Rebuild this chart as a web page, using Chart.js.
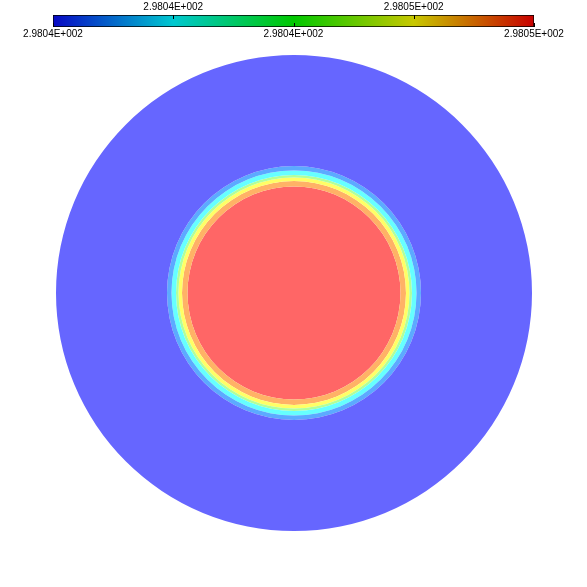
<!DOCTYPE html>
<html>
<head>
<meta charset="utf-8">
<script src="https://cdn.jsdelivr.net/npm/chart.js@4"></script>
<style>
  html, body { margin: 0; padding: 0; background: #ffffff; }
  #wrap { position: relative; width: 587px; height: 587px; }
  canvas { position: absolute; left: 0; }
  #disk { top: 0; }
  #bar { top: -1px; }
</style>
</head>
<body>
<div id="wrap">
  <canvas id="disk" width="587" height="587"></canvas>
  <canvas id="bar" width="587" height="42"></canvas>
</div>
<script>
// ---- data ----
// colour bar range and tick labels
const barMin = 298.0400;
const barMax = 298.0496;
const topTickValues = [298.0424, 298.0472];
const topTickLabels = ['2.9804E+002', '2.9805E+002'];
const bottomTickValues = [298.0400, 298.0448, 298.0496];
const bottomTickLabels = ['2.9804E+002', '2.9804E+002', '2.9805E+002'];
const barStops = [0, 0.25, 0.5, 0.75, 1];
const barStopColors = ['#0808c4', '#00c8d0', '#00c800', '#c8c800', '#c80000'];

// concentric contour bands (outer radius of each band, in plot units, outer -> inner)
const bandNames = ['band1', 'band2', 'band3', 'band4', 'band5', 'band6', 'band7'];
const bandOuterRadius = [238, 127, 122.5, 118, 115.5, 112, 106.5];
const bandColors = ['#6666ff', '#5caaff', '#66ffff', '#b2ff99', '#ffff66', '#ffb266', '#ff6666'];

// ---- disk (doughnut rings) ----
const datasets = bandOuterRadius.map((r, i) => {
  const inner = i + 1 < bandOuterRadius.length ? bandOuterRadius[i + 1] : 0;
  return {
    label: bandNames[i],
    data: [1],
    weight: r - inner,
    backgroundColor: bandColors[i],
    borderWidth: 0,
    hoverOffset: 0,
    offset: 0
  };
});

new Chart(document.getElementById('disk'), {
  type: 'doughnut',
  data: { labels: ['T'], datasets },
  options: {
    responsive: false,
    animation: false,
    devicePixelRatio: 1,
    cutout: 0,
    layout: { padding: { left: 56, right: 55, top: 55, bottom: 56 } },
    plugins: { legend: { display: false }, tooltip: { enabled: false } },
    events: []
  }
});

// ---- colour bar ----
const tickMarks = {
  id: 'tickMarks',
  afterDatasetsDraw(chart) {
    const c = chart.ctx;
    const a = chart.chartArea;
    c.save();
    c.strokeStyle = '#000';
    c.lineWidth = 1;
    c.beginPath();
    topTickValues.forEach(v => {
      const x = Math.round(chart.scales.x.getPixelForValue(v)) + 0.5;
      c.moveTo(x, a.top); c.lineTo(x, a.top + 4);
    });
    bottomTickValues.forEach(v => {
      const x = Math.round(chart.scales.x.getPixelForValue(v)) + 0.5;
      c.moveTo(x, a.bottom); c.lineTo(x, a.bottom - 4);
    });
    c.stroke();
    c.restore();
  }
};

const tickFont = { family: "'Liberation Sans', Arial, sans-serif", size: 10 };

new Chart(document.getElementById('bar'), {
  type: 'bar',
  data: {
    labels: ['T'],
    datasets: [{
      data: [[barMin, barMax]],
      xAxisID: 'x',
      backgroundColor: (ctx) => {
        const area = ctx.chart.chartArea;
        if (!area) return '#00c800';
        const g = ctx.chart.ctx.createLinearGradient(area.left, 0, area.right, 0);
        barStops.forEach((s, i) => g.addColorStop(s, barStopColors[i]));
        return g;
      },
      borderColor: '#000',
      borderWidth: 1,
      borderSkipped: false,
      barPercentage: 1,
      categoryPercentage: 1
    }]
  },
  options: {
    indexAxis: 'y',
    responsive: false,
    animation: false,
    devicePixelRatio: 1,
    layout: { padding: { left: 53, right: 53, top: 0, bottom: 0 } },
    plugins: { legend: { display: false }, tooltip: { enabled: false } },
    events: [],
    scales: {
      y: { display: false },
      x: {
        type: 'linear', position: 'bottom', min: barMin, max: barMax,
        grid: { display: false, drawTicks: false },
        border: { display: false },
        afterBuildTicks: s => { s.ticks = bottomTickValues.map(v => ({ value: v })); },
        ticks: {
          autoSkip: false, maxRotation: 0, padding: 1, color: '#000', font: tickFont,
          callback: (v, i) => bottomTickLabels[i]
        }
      },
      x2: {
        type: 'linear', position: 'top', min: barMin, max: barMax,
        grid: { display: false, drawTicks: false },
        border: { display: false },
        afterBuildTicks: s => { s.ticks = topTickValues.map(v => ({ value: v })); },
        ticks: {
          autoSkip: false, maxRotation: 0, padding: 2, color: '#000', font: tickFont,
          callback: (v, i) => topTickLabels[i]
        }
      }
    }
  },
  plugins: [tickMarks]
});
</script>
</body>
</html>
